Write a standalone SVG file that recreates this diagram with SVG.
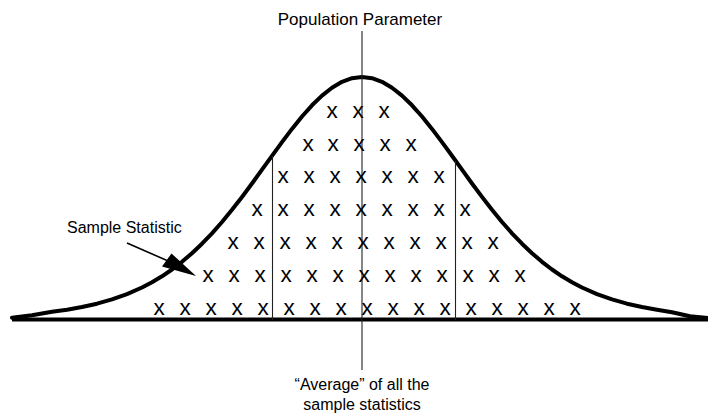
<svg xmlns="http://www.w3.org/2000/svg" width="708" height="413" viewBox="0 0 708 413">
  <style>
    .lbl { font-family: "Liberation Sans", Arial, sans-serif; font-size: 16px; fill: #000; }
    .xs { font-family: "Liberation Sans", Arial, sans-serif; font-size: 22.5px; fill: #000; text-anchor: middle; }
    .thin { stroke: #222; stroke-width: 1.1; fill: none; }
  </style>
  <rect width="708" height="413" fill="#fff"/>

  <g id="baseline">
    <line x1="12" y1="319.5" x2="708" y2="319.5" stroke="#000" stroke-width="4"/>
  </g>

  <g id="curve">
    <path fill="none" stroke="#000" stroke-width="4" stroke-linejoin="round" stroke-linecap="round"
      d="M12,317.8 L32,315.2 L52,311.7 L67,309.7 L82,307 L97,303.7 L112,299.4 L127,294.1 L142,287.5 L152,282.2 L162,276.3 L172,269.5 L182,261.8 L192,253.2 L202,243.7 L212,233.3 L222,222 L232,209.8 L242,196.9 L252,183.5 L262,169.7 L272,155.8 L282,142.1 L292,128.9 L302,116.5 L312,105.3 L322,95.6 L332,87.7 L342,81.8 L352,78.2 L362,77 L372,78.2 L382,81.8 L392,87.7 L402,95.6 L412,105.3 L422,116.5 L432,128.9 L442,142.1 L452,155.8 L462,169.7 L472,183.5 L482,196.9 L492,209.8 L502,222 L512,233.3 L522,243.7 L532,253.2 L542,261.8 L552,269.5 L562,276.3 L572,282.2 L582,287.5 L597,294.1 L612,299.4 L627,303.7 L642,307 L657,309.7 L672,312.2 L690,316.3 L708,318"/>
  </g>

  <g id="dividers">
    <line class="thin" x1="362" y1="31" x2="362" y2="370"/>
    <line class="thin" x1="272.5" y1="156" x2="272.5" y2="320"/>
    <line class="thin" x1="455.5" y1="161" x2="455.5" y2="320"/>
  </g>

  <g id="samples">
    <text class="xs" x="332 358 384" y="117.5">xxx</text>
    <text class="xs" x="308 333 359 385 411" y="150.5">xxxxx</text>
    <text class="xs" x="283 309 335 361 387 413 439" y="183">xxxxxxx</text>
    <text class="xs" x="257 283 309 335 361 387 413 439 465" y="216">xxxxxxxxx</text>
    <text class="xs" x="233 259 285 311 337 363 389 415 441 467 493" y="249">xxxxxxxxxxx</text>
    <text class="xs" x="208 234 260 286 312 338 364 390 416 442 468 494 520" y="282">xxxxxxxxxxxxx</text>
    <text class="xs" x="159 185 211 237 263 289 315 341 367 393 419 445 471 497 523 549 575" y="314.5">xxxxxxxxxxxxxxxxx</text>
  </g>

  <g id="label-population">
    <text class="lbl" x="360" y="25" text-anchor="middle" style="font-size:17px">Population Parameter</text>
  </g>

  <g id="label-sample">
    <text class="lbl" x="67" y="233">Sample Statistic</text>
  </g>

  <g id="label-average">
    <text class="lbl" x="362" y="390" text-anchor="middle">“Average” of all the</text>
    <text class="lbl" x="362" y="409.5" text-anchor="middle">sample statistics</text>
  </g>

  <g id="connectors">
    <line x1="127" y1="243" x2="167" y2="260.5" stroke="#000" stroke-width="1.6"/>
    <polygon points="196,276 171.5,253.5 162,266.5" fill="#000"/>
  </g>
</svg>
